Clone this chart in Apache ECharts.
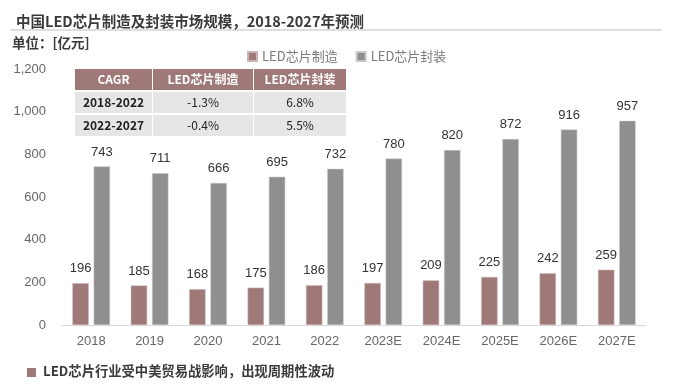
<!DOCTYPE html>
<html><head><meta charset="utf-8">
<script src="https://cdn.jsdelivr.net/npm/echarts@6/dist/echarts.min.js"></script>
<style>html,body{margin:0;padding:0;background:#fff}#c{width:673px;height:386px}</style>
</head><body><div id="c"></div>
<script>
const categories = ['2018','2019','2020','2021','2022','2023E','2024E','2025E','2026E','2027E'];
const chipMfg = [196,185,168,175,186,197,209,225,242,259];
const chipPkg = [743,711,666,695,732,780,820,872,916,957];
const seriesNames = ['LED芯片制造','LED芯片封装'];
const tableHeader = ['CAGR','LED芯片制造','LED芯片封装'];
const tableRows = [['2018-2022','-1.3%','6.8%'],['2022-2027','-0.4%','5.5%']];
const yTicks = [0,200,400,600,800,1000,1200];

const C1 = '#9F7977', C2 = '#8F8F8F';
const chart = echarts.init(document.getElementById('c'));
const cjk = '"Noto Sans CJK SC", "Liberation Sans", sans-serif';
const narrow = '"Liberation Sans Narrow", "Liberation Sans", sans-serif';

// table graphics
const colX = [75,153,254,347];
const rowY = [69,92,115,138];
const tbl = [];
for (let r = 0; r < 3; r++) {
  for (let c = 0; c < 3; c++) {
    const x = colX[c], w = colX[c+1]-colX[c]-1, y = rowY[r], h = rowY[r+1]-rowY[r]-2;
    tbl.push({type:'rect', shape:{x:x,y:y,width:w,height:h}, style:{fill: r===0 ? C1 : '#E6E6E6'}, z:10});
    const txt = r===0 ? tableHeader[c] : tableRows[r-1][c];
    tbl.push({type:'text', x:x+w/2, y:y+h/2, z:11, style:{text:txt, align:'center', verticalAlign:'middle',
      fill: r===0 ? '#fff' : '#222', font: (r===0 || c===0 ? 'bold ' : '') + '12px ' + cjk}});
  }
}

chart.setOption({
  animation:false,
  title:{text:'中国LED芯片制造及封装市场规模，2018-2027年预测', left:11, top:9,
    textStyle:{fontFamily:cjk, fontSize:14.5, fontWeight:'bold', color:'#3a3a3a'}},
  legend:{data:seriesNames, left:242, top:45, itemWidth:9, itemHeight:9, itemGap:18, icon:'rect',
    textStyle:{fontFamily:cjk, fontSize:13, color:'#7a7a7a'}},
  grid:{left:62, right:27, top:69, bottom:61},
  xAxis:{type:'category', data:categories,
    axisLine:{lineStyle:{color:'#D9D9D9'}}, axisTick:{show:false},
    axisLabel:{color:'#666', fontSize:13, fontFamily:narrow, margin:10}},
  yAxis:{type:'value', min:0, max:1200, interval:200, splitLine:{show:false},
    axisLabel:{color:'#666', fontSize:13, fontFamily:narrow, margin:16,
      formatter:v=>v.toLocaleString('en-US')}},
  series:[
    {name:seriesNames[0], type:'bar', data:chipMfg, barWidth:'28%', barGap:'30%',
     itemStyle:{color:C1, borderColor:'#C9B5B4', borderWidth:0.5},
     label:{show:true, position:'top', color:'#333', fontSize:13, fontFamily:'"Liberation Sans", sans-serif', distance:8}},
    {name:seriesNames[1], type:'bar', data:chipPkg, barWidth:'28%',
     itemStyle:{color:C2, borderColor:'#C8C8C8', borderWidth:0.5},
     label:{show:true, position:'top', color:'#333', fontSize:13, fontFamily:'"Liberation Sans", sans-serif', distance:8}}
  ],
  graphic:[
    {type:'line', shape:{x1:10,y1:30,x2:662,y2:30}, style:{stroke:'#BFBFBF', lineWidth:1}},
    {type:'text', x:12, y:36, style:{text:'单位：[亿元]', font:'bold 13.5px '+cjk, fill:'#3a3a3a'}},
    {type:'rect', shape:{x:27,y:368,width:9,height:9}, style:{fill:C1}},
    {type:'text', x:43, y:364, style:{text:'LED芯片行业受中美贸易战影响，出现周期性波动', font:'bold 13.3px '+cjk, fill:'#3a3a3a'}},
    ...tbl
  ]
});
</script></body></html>
